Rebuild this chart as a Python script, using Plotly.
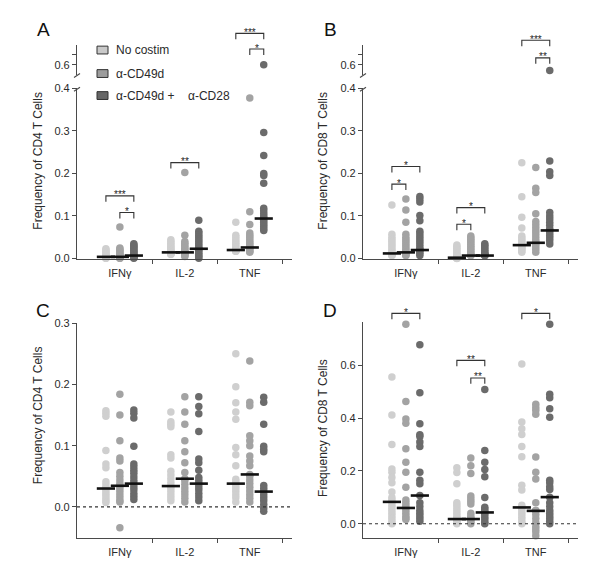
import plotly.graph_objects as go

W, H = 600, 568
FONT = "Liberation Sans, Arial, sans-serif"

cytokines = ["IFNγ", "IL-2", "TNF"]
conditions = ["No costim", "α-CD49d", "α-CD49d +\u00a0\u00a0\u00a0\u00a0α-CD28"]

# ---------------- data (frequency values, per condition: [IFNγ, IL-2, TNF]) -------------
A_no_costim = [
    [0.023, 0.02, 0.018, 0.015, 0.012, 0.01, 0.008, 0.006, 0.005, 0.004, 0.004, 0.003, 0.003, 0.002, 0.002, 0.001, 0.001],
    [0.044, 0.04, 0.036, 0.032, 0.028, 0.025, 0.022, 0.019, 0.016, 0.015, 0.014, 0.013, 0.012, 0.011, 0.01, 0.01],
    [0.085, 0.055, 0.05, 0.045, 0.04, 0.036, 0.032, 0.028, 0.024, 0.021, 0.02, 0.019, 0.018, 0.017, 0.017],
]
A_cd49d = [
    [0.074, 0.025, 0.022, 0.019, 0.016, 0.013, 0.01, 0.008, 0.006, 0.005, 0.004, 0.004, 0.003, 0.002, 0.001, 0.001],
    [0.202, 0.055, 0.04, 0.036, 0.032, 0.028, 0.024, 0.02, 0.017, 0.015, 0.014, 0.013, 0.011, 0.009, 0.007, 0.005],
    [0.377, 0.11, 0.08, 0.06, 0.055, 0.05, 0.045, 0.04, 0.036, 0.032, 0.028, 0.026, 0.024, 0.02, 0.017, 0.015],
]
A_cd49d_cd28 = [
    [0.035, 0.032, 0.029, 0.026, 0.023, 0.02, 0.017, 0.014, 0.011, 0.008, 0.007, 0.006, 0.005, 0.004, 0.003, 0.002, 0.001],
    [0.09, 0.064, 0.06, 0.055, 0.05, 0.045, 0.04, 0.035, 0.03, 0.025, 0.023, 0.02, 0.016, 0.012, 0.008, 0.004, 0.001],
    [0.6, 0.296, 0.242, 0.2, 0.195, 0.177, 0.118, 0.112, 0.106, 0.1, 0.095, 0.09, 0.085, 0.08, 0.075, 0.07, 0.066],
]
A_medians = [[0.004, 0.0145, 0.02], [0.004, 0.0145, 0.026], [0.007, 0.023, 0.094]]

B_no_costim = [
    [0.126, 0.057, 0.05, 0.045, 0.04, 0.035, 0.03, 0.025, 0.02, 0.016, 0.013, 0.012, 0.011, 0.01, 0.009, 0.008, 0.007],
    [0.032, 0.028, 0.024, 0.02, 0.016, 0.012, 0.009, 0.007, 0.005, 0.003, 0.002, 0.002, 0.001, 0.001, 0.0],
    [0.225, 0.145, 0.097, 0.072, 0.053, 0.048, 0.044, 0.04, 0.036, 0.032, 0.03, 0.027, 0.024, 0.021, 0.018, 0.015],
]
B_cd49d = [
    [0.14, 0.114, 0.085, 0.057, 0.05, 0.045, 0.04, 0.035, 0.03, 0.025, 0.02, 0.016, 0.014, 0.012, 0.01, 0.008, 0.007],
    [0.053, 0.049, 0.045, 0.041, 0.037, 0.033, 0.029, 0.025, 0.021, 0.017, 0.013, 0.01, 0.008, 0.007, 0.007],
    [0.214, 0.165, 0.155, 0.105, 0.087, 0.08, 0.073, 0.066, 0.06, 0.053, 0.046, 0.04, 0.037, 0.033, 0.028, 0.022, 0.015],
]
B_cd49d_cd28 = [
    [0.146, 0.14, 0.133, 0.101, 0.089, 0.064, 0.058, 0.052, 0.046, 0.04, 0.034, 0.028, 0.022, 0.02, 0.016, 0.012, 0.007],
    [0.035, 0.031, 0.027, 0.023, 0.019, 0.015, 0.012, 0.009, 0.008, 0.007, 0.007],
    [0.54, 0.229, 0.204, 0.195, 0.108, 0.1, 0.093, 0.085, 0.078, 0.07, 0.066, 0.06, 0.054, 0.048, 0.042, 0.034],
]
B_medians = [[0.012, 0.002, 0.0315], [0.0145, 0.007, 0.037], [0.02, 0.007, 0.066]]

C_no_costim = [
    [0.157, 0.153, 0.148, 0.092, 0.07, 0.064, 0.041, 0.036, 0.031, 0.03, 0.026, 0.022, 0.018, 0.014, 0.01, 0.007],
    [0.155, 0.139, 0.135, 0.131, 0.085, 0.08, 0.058, 0.052, 0.046, 0.04, 0.034, 0.03, 0.025, 0.02, 0.015, 0.01],
    [0.25, 0.196, 0.17, 0.155, 0.143, 0.097, 0.085, 0.067, 0.045, 0.041, 0.038, 0.034, 0.03, 0.025, 0.02, 0.015, 0.008],
]
C_cd49d = [
    [0.184, 0.15, 0.108, 0.08, 0.075, 0.056, 0.05, 0.044, 0.038, 0.034, 0.03, 0.025, 0.02, 0.015, 0.01, 0.008, -0.034],
    [0.18, 0.155, 0.135, 0.108, 0.09, 0.072, 0.056, 0.046, 0.043, 0.037, 0.031, 0.025, 0.02, 0.014, 0.008],
    [0.238, 0.171, 0.165, 0.116, 0.108, 0.1, 0.083, 0.075, 0.067, 0.053, 0.05, 0.044, 0.038, 0.032, 0.026, 0.02, 0.014, 0.008],
]
C_cd49d_cd28 = [
    [0.158, 0.153, 0.145, 0.099, 0.07, 0.065, 0.06, 0.055, 0.049, 0.043, 0.038, 0.033, 0.028, 0.022, 0.017, 0.012],
    [0.18, 0.164, 0.152, 0.123, 0.078, 0.072, 0.06, 0.048, 0.043, 0.038, 0.033, 0.028, 0.022, 0.016, 0.01],
    [0.179, 0.171, 0.135, 0.099, 0.094, 0.09, 0.035, 0.03, 0.025, 0.02, 0.015, 0.01, 0.004, -0.002, -0.007],
]
C_medians = [[0.03, 0.034, 0.038], [0.0345, 0.046, 0.053], [0.038, 0.038, 0.025]]

D_no_costim = [
    [0.556, 0.412, 0.3, 0.207, 0.195, 0.175, 0.155, 0.12, 0.1, 0.09, 0.083, 0.07, 0.06, 0.05, 0.04, 0.03, 0.02, 0.01, 0.0],
    [0.212, 0.194, 0.152, 0.08, 0.07, 0.06, 0.05, 0.04, 0.03, 0.022, 0.018, 0.012, 0.008, 0.004, 0.0],
    [0.605, 0.385, 0.36, 0.338, 0.293, 0.254, 0.146, 0.128, 0.07, 0.062, 0.055, 0.045, 0.035, 0.025, 0.015, 0.005, 0.0],
]
D_cd49d = [
    [0.755, 0.463, 0.397, 0.381, 0.284, 0.233, 0.195, 0.138, 0.09, 0.08, 0.07, 0.06, 0.05, 0.04, 0.03, 0.022, 0.016],
    [0.249, 0.22, 0.19, 0.105, 0.095, 0.085, 0.075, 0.04, 0.03, 0.022, 0.018, 0.012, 0.006, 0.0],
    [0.772, 0.452, 0.44, 0.43, 0.415, 0.253, 0.195, 0.17, 0.08, 0.05, 0.049, 0.035, 0.02, 0.005, -0.01, -0.02, -0.03, -0.045],
]
D_cd49d_cd28 = [
    [0.678, 0.496, 0.379, 0.337, 0.33, 0.31, 0.293, 0.195, 0.165, 0.152, 0.107, 0.08, 0.065, 0.05, 0.04, 0.03, 0.02, 0.01],
    [0.508, 0.277, 0.233, 0.206, 0.178, 0.1, 0.063, 0.055, 0.047, 0.043, 0.035, 0.025, 0.015, 0.005, 0.0],
    [0.755, 0.49, 0.477, 0.435, 0.403, 0.165, 0.155, 0.14, 0.13, 0.101, 0.08, 0.065, 0.05, 0.04, 0.03, 0.02, 0.01, 0.0],
]
D_medians = [[0.083, 0.018, 0.062], [0.06, 0.018, 0.049], [0.107, 0.043, 0.101]]

# significance: (cytokine index, group from, group to, stars)
A_sig = [(0, 0, 2, "***"), (0, 1, 2, "*"), (1, 0, 2, "**"), (2, 0, 2, "***"), (2, 1, 2, "*")]
B_sig = [(0, 0, 2, "*"), (0, 0, 1, "*"), (1, 0, 2, "*"), (1, 0, 1, "*"), (2, 0, 2, "***"), (2, 1, 2, "**")]
D_sig = [(0, 0, 2, "*"), (1, 0, 2, "**"), (1, 1, 2, "**"), (2, 0, 2, "*")]

# ---------------- styling / layout ----------------
COLORS = ["#cfcfcf", "#a3a3a3", "#6b6b6b"]
LEG_COLORS = ["#c9c9c9", "#9c9c9c", "#666666"]
AXC = "#4a4a4a"
TXT = "#2a2a2a"
GOFF = [-0.215, 0.0, 0.215]
XR = [0.34, 3.65]
MS = 7.5


def pxx(x):
    return x / W


def pyy(y):
    return 1 - y / H


panels = [
    dict(name="A", x="x", xa="xaxis", xdom=(77, 292),
         lower=("y", "yaxis", (84, 258), [0, 0.4], [0, 0.1, 0.2, 0.3, 0.4], None),
         upper=("y2", "yaxis2", (40, 70), [0.5, 0.8], [0.6, 0.7], ["0.6", ""]),
         data=[A_no_costim, A_cd49d, A_cd49d_cd28], med=A_medians, sig=A_sig,
         sig_y=[194, 211, 160, 28, 44], title="Frequency of CD4 T Cells", tpos=(38, 158),
         letter=(43, 24), zero=False),
    dict(name="B", x="x2", xa="xaxis2", xdom=(363, 578),
         lower=("y3", "yaxis3", (84, 258), [0, 0.4], [0, 0.1, 0.2, 0.3, 0.4], None),
         upper=("y4", "yaxis4", (40, 70), [0.5, 0.8], [0.6, 0.7], ["0.6", ""]),
         data=[B_no_costim, B_cd49d, B_cd49d_cd28], med=B_medians, sig=B_sig,
         sig_y=[164, 182, 206, 223, 35, 53], title="Frequency of CD8 T Cells", tpos=(323, 158),
         letter=(330, 24), zero=False),
    dict(name="C", x="x3", xa="xaxis3", xdom=(77, 292),
         lower=("y5", "yaxis5", (324, 543), [-0.05, 0.3], [0, 0.1, 0.2, 0.3], None),
         upper=None,
         data=[C_no_costim, C_cd49d, C_cd49d_cd28], med=C_medians, sig=[],
         sig_y=[], title="Frequency of CD4 T Cells", tpos=(38, 418),
         letter=(43, 311), zero=True),
    dict(name="D", x="x4", xa="xaxis4", xdom=(363, 578),
         lower=("y6", "yaxis6", (323, 543), [-0.0519, 0.763], [0, 0.2, 0.4, 0.6], None),
         upper=None,
         data=[D_no_costim, D_cd49d, D_cd49d_cd28], med=D_medians, sig=D_sig,
         sig_y=[314, 362, 380, 314], title="Frequency of CD8 T Cells", tpos=(323, 431),
         letter=(330, 311), zero=True),
]

fig = go.Figure()
layout = dict(width=W, height=H, margin=dict(l=0, r=0, t=0, b=0),
              paper_bgcolor="white", plot_bgcolor="rgba(0,0,0,0)",
              showlegend=False, font=dict(family=FONT, color=TXT, size=11))
shapes = []
annotations = []

axis_common = dict(showline=True, linecolor=AXC, linewidth=1.2, tickcolor=AXC,
                   tickwidth=1.2, showgrid=False, zeroline=False,
                   tickfont=dict(family=FONT, size=11, color=TXT))

for p in panels:
    segs = [p["lower"]] + ([p["upper"]] if p["upper"] else [])
    lower_id = p["lower"][0]
    # x axis
    layout[p["xa"]] = dict(axis_common, domain=[pxx(p["xdom"][0]), pxx(p["xdom"][1])],
                           anchor=lower_id, range=XR, tickmode="array",
                           tickvals=[1, 2, 3], ticktext=cytokines, ticks="",
                           ticklabelstandoff=4,
                           minor=dict(tickmode="array", tickvals=[1.5, 2.5, 3.5],
                                      ticks="outside", ticklen=4, tickcolor=AXC, tickwidth=1.2))
    for si, (yid, yname, ydom, yr, tv, tt) in enumerate(segs):
        ya = dict(axis_common, domain=[pyy(ydom[1]), pyy(ydom[0])], anchor=p["x"],
                  range=yr, tickmode="array", tickvals=tv, ticks="outside", ticklen=4,
                  tickformat=".1f")
        if tt is not None:
            ya["ticktext"] = tt
        layout[yname] = ya
        lo, hi = yr
        for g in range(3):
            xs, ys = [], []
            for c in range(3):
                for v in p["data"][g][c]:
                    if lo - 0.06 <= v <= hi + 0.02 and (si == 1 or p["upper"] is None or v <= hi):
                        if si == 1 and v < lo:
                            continue
                        xs.append(c + 1 + GOFF[g])
                        ys.append(v)
            fig.add_trace(go.Scatter(x=xs, y=ys, xaxis=p["x"], yaxis=yid, mode="markers",
                                     marker=dict(size=MS, color=COLORS[g], line=dict(width=0)),
                                     cliponaxis=False, name=conditions[g], hoverinfo="y"))
    # medians
    mx, my = [], []
    for g in range(3):
        for c in range(3):
            mx.append(c + 1 + GOFF[g])
            my.append(p["med"][g][c])
    fig.add_trace(go.Scatter(x=mx, y=my, xaxis=p["x"], yaxis=lower_id, mode="markers",
                             marker=dict(symbol="line-ew", size=13,
                                         line=dict(width=2.6, color="#111111")),
                             cliponaxis=False, name="median", hoverinfo="y"))
    # zero dotted line
    if p["zero"]:
        shapes.append(dict(type="line", xref=p["x"] + " domain", x0=0, x1=1,
                           yref=lower_id, y0=0, y1=0,
                           line=dict(color="#333333", width=1.1, dash="dot")))

    # significance brackets
    def xp(c, g, p=p):
        val = c + 1 + GOFF[g]
        d0, d1 = p["xdom"]
        return pxx(d0 + (val - XR[0]) / (XR[1] - XR[0]) * (d1 - d0))

    for (c, g0, g1, stars), yb in zip(p["sig"], p["sig_y"]):
        x0, x1 = xp(c, g0), xp(c, g1)
        yt, yl = pyy(yb), pyy(yb + 6)
        shapes.append(dict(type="path", xref="paper", yref="paper",
                           path=f"M {x0},{yl} L {x0},{yt} L {x1},{yt} L {x1},{yl}",
                           line=dict(color="#333333", width=1.1)))
        annotations.append(dict(xref="paper", yref="paper", x=(x0 + x1) / 2, y=pyy(yb - 1),
                                text=stars, showarrow=False, xanchor="center", yanchor="middle",
                                font=dict(size=10, color="#222222", family=FONT)))
    # axis title
    annotations.append(dict(xref="paper", yref="paper", x=pxx(p["tpos"][0]), y=pyy(p["tpos"][1]),
                            text=p["title"], textangle=-90, showarrow=False,
                            xanchor="center", yanchor="middle",
                            font=dict(size=12, color=TXT, family=FONT)))
    # panel letter
    annotations.append(dict(xref="paper", yref="paper", x=pxx(p["letter"][0]), y=pyy(p["letter"][1]),
                            text=p["name"], showarrow=False, xanchor="center", yanchor="middle",
                            font=dict(size=19, color="#111111", family=FONT)))
    # axis break marks
    if p["upper"]:
        ax = p["xdom"][0]
        for yb in (71, 85):
            shapes.append(dict(type="line", xref="paper", yref="paper",
                               x0=pxx(ax - 3), y0=pyy(yb + 2), x1=pxx(ax + 3), y1=pyy(yb - 2),
                               line=dict(color=AXC, width=1.2)))

# legend (panel A)
leg_rows = [45, 69, 91.5]
for g in range(3):
    yc = leg_rows[g]
    shapes.append(dict(type="rect", xref="paper", yref="paper",
                       x0=pxx(97), x1=pxx(108), y0=pyy(yc + 4), y1=pyy(yc - 4),
                       fillcolor=LEG_COLORS[g], line=dict(color="#333333", width=1)))
    annotations.append(dict(xref="paper", yref="paper", x=pxx(114), y=pyy(yc),
                            text=conditions[g], showarrow=False, xanchor="left", yanchor="middle",
                            font=dict(size=12, color=TXT, family=FONT)))

layout["shapes"] = shapes
layout["annotations"] = annotations
fig.update_layout(**layout)
fig.write_html("out.html", config={"displayModeBar": False},
               post_script="document.body.style.margin='0px';document.body.style.overflow='hidden';")
